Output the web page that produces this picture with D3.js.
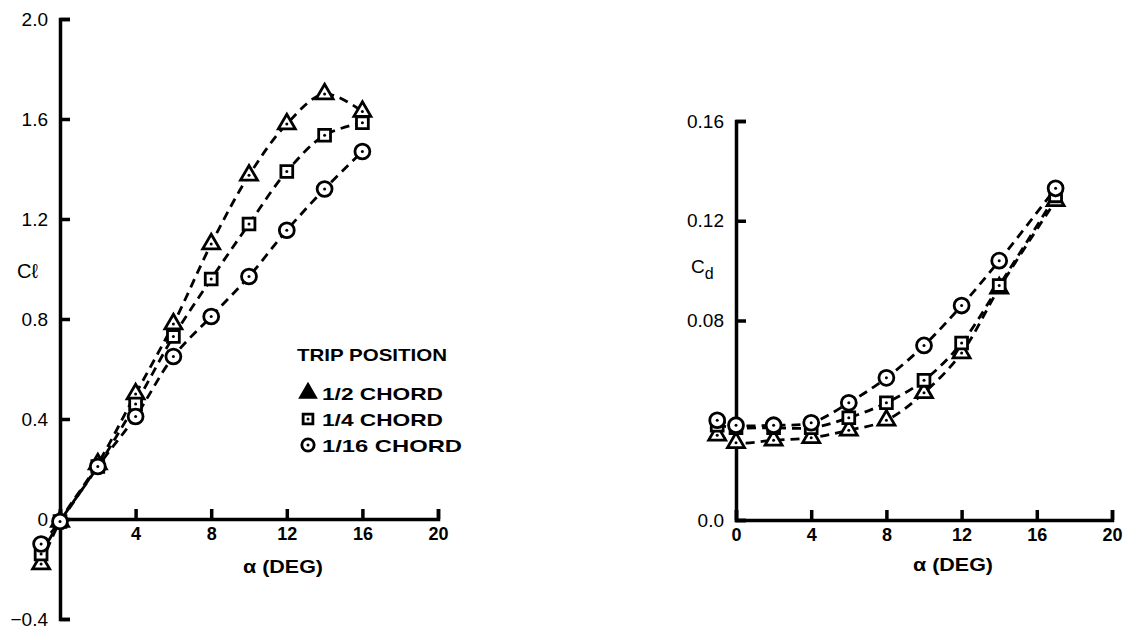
<!DOCTYPE html>
<html>
<head>
<meta charset="utf-8">
<script src="https://cdn.jsdelivr.net/npm/d3@7"></script>
<style>
  html, body { margin: 0; padding: 0; background: #fff; }
  svg { display: block; }
  text { font-family: "Liberation Sans", Arial, sans-serif; fill: #000; }
</style>
</head>
<body>
<div id="chart"></div>
<script>
// ---------------- DATA ----------------
// Left panel: lift coefficient vs angle of attack
const alphaLeft = [-1, 0, 2, 4, 6, 8, 10, 12, 14, 16];
const clHalf    = [-0.18, -0.01, 0.22, 0.50, 0.78, 1.10, 1.375, 1.58, 1.70, 1.63];
const clQuarter = [-0.14, -0.01, 0.21, 0.46, 0.73, 0.96, 1.18, 1.39, 1.535, 1.585];
const clSixteen = [-0.10, -0.01, 0.21, 0.41, 0.65, 0.81, 0.97, 1.155, 1.32, 1.47];

// Right panel: drag coefficient vs angle of attack
const alphaRight = [-1, 0, 2, 4, 6, 8, 10, 12, 14, 17];
const cdHalf    = [0.034, 0.031, 0.032, 0.033, 0.036, 0.040, 0.051, 0.067, 0.093, 0.128];
const cdQuarter = [0.038, 0.037, 0.037, 0.037, 0.041, 0.047, 0.056, 0.071, 0.094, 0.130];
const cdSixteen = [0.040, 0.038, 0.038, 0.039, 0.047, 0.057, 0.070, 0.086, 0.104, 0.133];

// Series names / markers
const seriesNames = ["1/2 CHORD", "1/4 CHORD", "1/16 CHORD"];
const seriesMarkers = ["triangle", "square", "circle"];
const legendTitle = "TRIP POSITION";

// Tick labels
const xTicks = [0, 4, 8, 12, 16, 20];
const clTicks = [-0.4, 0, 0.4, 0.8, 1.2, 1.6, 2.0];
const clTickLabels = ["\u22120.4", "0", "0.4", "0.8", "1.2", "1.6", "2.0"];
const cdTicks = [0, 0.08, 0.12, 0.16];
const cdTickLabels = ["0.0", "0.08", "0.12", "0.16"];
const xLabel = "\u03b1 (DEG)";

// ---------------- DRAWING ----------------
const W = 1131, H = 630;
const svg = d3.select("#chart").append("svg")
  .attr("width", W).attr("height", H)
  .style("background", "#fff");

const xL = d3.scaleLinear().domain([0, 20]).range([60, 438]);
const yL = d3.scaleLinear().domain([-0.4, 2.0]).range([619, 19]);
const xR = d3.scaleLinear().domain([0, 20]).range([736, 1112]);
const yR = d3.scaleLinear().domain([0, 0.16]).range([520, 121]);

const symType = { triangle: d3.symbolTriangle, square: d3.symbolSquare, circle: d3.symbolCircle };
const symSize = { triangle: 125, square: 140, circle: 175 };

function styleAxis(g, bold, size) {
  g.attr("font-family", null);
  g.select(".domain").attr("stroke", "#000").attr("stroke-width", 3.5).attr("fill", "none");
  g.selectAll(".tick line").attr("stroke", "#000").attr("stroke-width", 3.5);
  g.selectAll(".tick text").style("font-size", size + "px")
    .style("font-weight", bold ? "bold" : "normal").attr("fill", "#000");
}

function drawPanel(x, y, alphas, seriesList, yTicks, yLabels, showX0) {
  // y axis
  const ya = svg.append("g").attr("transform", `translate(${x(0)},0)`)
    .call(d3.axisLeft(y).tickValues(yTicks)
      .tickFormat((d, i) => yLabels[i])
      .tickSizeInner(-10).tickSizeOuter(-10).tickPadding(12));
  styleAxis(ya, false, 19);
  // x axis
  const xa = svg.append("g").attr("transform", `translate(0,${y(0)})`)
    .call(d3.axisBottom(x).tickValues(xTicks)
      .tickFormat(d => (d === 0 && !showX0) ? "" : String(d))
      .tickSizeInner(-10).tickSizeOuter(-10).tickPadding(8));
  styleAxis(xa, true, 18);

  const line = d3.line()
    .x(d => x(d[0])).y(d => y(d[1]))
    .curve(d3.curveCatmullRom.alpha(0.5));

  seriesList.forEach((vals) => {
    const pts = alphas.map((a, i) => [a, vals[i]]);
    svg.append("path").datum(pts)
      .attr("d", line)
      .attr("fill", "none").attr("stroke", "#000")
      .attr("stroke-width", 2.8).attr("stroke-dasharray", "9,6");
  });
  seriesList.forEach((vals, si) => {
    const m = seriesMarkers[si];
    const pts = alphas.map((a, i) => [a, vals[i]]);
    const g = svg.append("g");
    g.selectAll("path.mk").data(pts).join("path").attr("class", "mk")
      .attr("transform", d => `translate(${x(d[0])},${y(d[1])})`)
      .attr("d", d3.symbol().type(symType[m]).size(symSize[m]))
      .attr("fill", "#fff").attr("stroke", "#000").attr("stroke-width", 2.8);
    g.selectAll("circle.dot").data(pts).join("circle").attr("class", "dot")
      .attr("cx", d => x(d[0])).attr("cy", d => y(d[1])).attr("r", 1.5)
      .attr("fill", "#000");
  });
}

drawPanel(xL, yL, alphaLeft, [clHalf, clQuarter, clSixteen], clTicks, clTickLabels, false);
drawPanel(xR, yR, alphaRight, [cdHalf, cdQuarter, cdSixteen], cdTicks, cdTickLabels, true);

// Axis titles
svg.append("text").attr("x", 283).attr("y", 573).attr("text-anchor", "middle")
  .style("font-size", "19px").style("font-weight", "bold")
  .attr("textLength", 80).attr("lengthAdjust", "spacingAndGlyphs").text(xLabel);
svg.append("text").attr("x", 953).attr("y", 571).attr("text-anchor", "middle")
  .style("font-size", "19px").style("font-weight", "bold")
  .attr("textLength", 80).attr("lengthAdjust", "spacingAndGlyphs").text(xLabel);

svg.append("text").attr("x", 17).attr("y", 278)
  .style("font-size", "20px").text("C\u2113");
const cd = svg.append("text").attr("x", 691).attr("y", 273).style("font-size", "19px");
cd.append("tspan").text("C");
cd.append("tspan").attr("dy", 6).style("font-size", "16px").text("d");

// Legend
const lg = svg.append("g");
lg.append("text").attr("x", 297).attr("y", 361)
  .style("font-size", "17px").style("font-weight", "bold")
  .attr("textLength", 150).attr("lengthAdjust", "spacingAndGlyphs")
  .text(legendTitle);
const legY = [393, 419, 445];
const legSize = { triangle: 95, square: 95, circle: 120 };
seriesNames.forEach((name, i) => {
  const m = seriesMarkers[i];
  lg.append("path")
    .attr("transform", `translate(308,${legY[i]})`)
    .attr("d", d3.symbol().type(symType[m]).size(legSize[m]))
    .attr("fill", m === "triangle" ? "#000" : "#fff")
    .attr("stroke", "#000").attr("stroke-width", 2.8);
  if (m !== "triangle") {
    lg.append("circle").attr("cx", 308).attr("cy", legY[i]).attr("r", 1.5).attr("fill", "#000");
  }
  lg.append("text").attr("x", 322).attr("y", legY[i] + 7)
    .style("font-size", "17px").style("font-weight", "bold")
    .attr("textLength", i === 2 ? 140 : 121).attr("lengthAdjust", "spacingAndGlyphs")
    .text(name);
});
</script>
</body>
</html>
